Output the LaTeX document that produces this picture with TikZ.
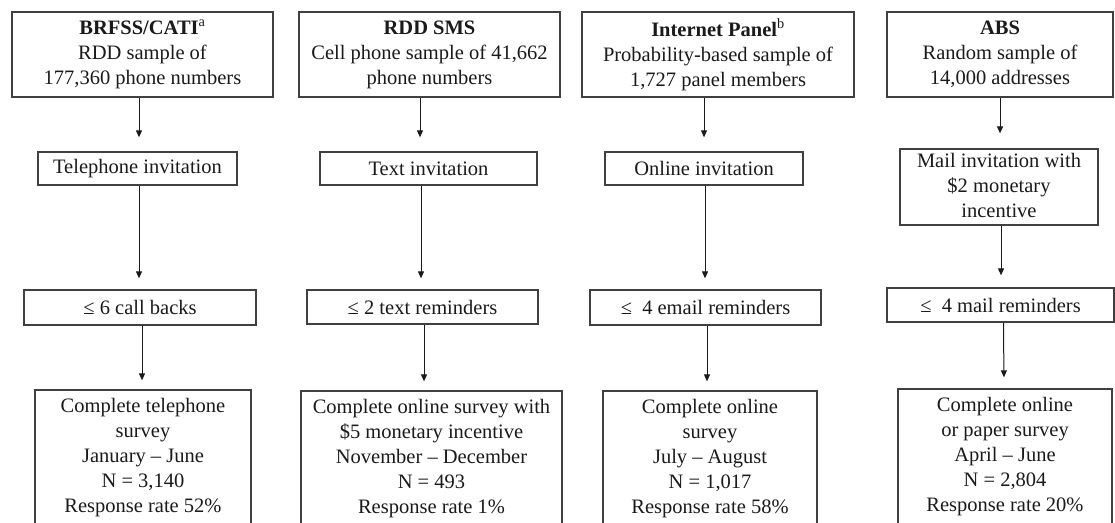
\documentclass[tikz,border=0pt]{standalone}
\usepackage{fontspec}
\setmainfont{Liberation Serif}
\usetikzlibrary{arrows.meta}
\definecolor{boxline}{HTML}{404040}
\definecolor{txt}{HTML}{1A1A1A}
\tikzset{
  box/.style={draw=boxline, line width=1.3pt, inner sep=0pt, align=center, text=txt,
    font=\fontsize{20.5}{25}\selectfont},
  arr/.style={draw=txt, line width=1pt, -{Triangle[length=7pt,width=6pt]}, shorten >=11pt},
}
\begin{document}
\begin{tikzpicture}[x=1pt,y=-1pt]
\clip (0,0) rectangle (1115,522);
\fill[white] (0,0) rectangle (1115,522);
% column 1
\node[box, minimum width=261pt, minimum height=85pt] (t1) at (142.5,54.5)
  {\textbf{BRFSS/CATI}\textsuperscript{a}\\RDD sample of\\177,360 phone numbers};
\node[box, minimum width=199pt, minimum height=33pt] (i1) at (137.5,168.5) {Telephone invitation};
\node[box, minimum width=232pt, minimum height=35pt] (r1) at (140,307.5) {≤ 6 call backs};
\node[box, minimum width=216pt, minimum height=135pt] (b1) at (143,457.5)
  {Complete telephone\\survey\\January – June\\N = 3,140\\Response rate 52\%};
% column 2
\node[box, minimum width=261pt, minimum height=85pt] (t2) at (429.5,54.5)
  {\textbf{RDD SMS}\\Cell phone sample of 41,662\\phone numbers};
\node[box, minimum width=217pt, minimum height=33pt] (i2) at (428.5,168.5) {Text invitation};
\node[box, minimum width=231pt, minimum height=34pt] (r2) at (422.5,307) {≤ 2 text reminders};
\node[box, minimum width=261pt, minimum height=135pt] (b2) at (431.5,458.5)
  {Complete online survey with\\\$5 monetary incentive\\November – December\\N = 493\\Response rate 1\%};
% column 3
\node[box, minimum width=272pt, minimum height=85pt] (t3) at (718,54.5)
  {\textbf{Internet Panel}\textsuperscript{b}\\Probability-based sample of\\1,727 panel members};
\node[box, minimum width=198pt, minimum height=33pt] (i3) at (704,168.5) {Online invitation};
\node[box, minimum width=231pt, minimum height=35pt] (r3) at (705.5,307.5) {≤\ \ 4 email reminders};
\node[box, minimum width=214pt, minimum height=135pt] (b3) at (710,458.5)
  {Complete online\\survey\\July – August\\N = 1,017\\Response rate 58\%};
% column 4
\node[box, minimum width=226pt, minimum height=85pt] (t4) at (1000,54.5)
  {\textbf{ABS}\\Random sample of\\14,000 addresses};
\node[box, minimum width=198pt, minimum height=76pt] (i4) at (999,187)
  {\raisebox{-3pt}{\begin{tabular}{@{}c@{}}Mail invitation with\\\$2 monetary\\incentive\end{tabular}}};
\node[box, minimum width=227pt, minimum height=34pt] (r4) at (1000.5,305) {≤\ \ 4 mail reminders};
\node[box, minimum width=214pt, minimum height=135pt] (b4) at (1005,456.5)
  {Complete online\\or paper survey\\April – June\\N = 2,804\\Response rate 20\%};
% arrows
\draw[arr, shorten >=14pt] ([xshift=-3.5pt]t1.south) -- ([xshift=1.5pt]i1.north);
\draw[arr] ([xshift=1.5pt]i1.south) -- ([xshift=-1pt]r1.north);
\draw[arr, shorten >=9pt] ([xshift=2pt]r1.south) -- ([xshift=-1pt]b1.north);
\draw[arr, shorten >=14pt] ([xshift=-9.5pt]t2.south) -- ([xshift=-8.5pt]i2.north);
\draw[arr] ([xshift=-7.5pt]i2.south) -- ([xshift=-1.5pt]r2.north);
\draw[arr, shorten >=9pt] ([xshift=1.5pt]r2.south) -- ([xshift=-7.5pt]b2.north);
\draw[arr, shorten >=14pt] ([xshift=-14pt]t3.south) -- ([xshift=0pt]i3.north);
\draw[arr] ([xshift=1pt]i3.south) -- ([xshift=-0.5pt]r3.north);
\draw[arr, shorten >=9pt] ([xshift=1.5pt]r3.south) -- ([xshift=-3pt]b3.north);
\draw[arr, shorten >=15pt] ([xshift=0pt]t4.south) -- ([xshift=1pt]i4.north);
\draw[arr, shorten >=12pt] ([xshift=2pt]i4.south) -- ([xshift=0.5pt]r4.north);
\draw[arr] ([xshift=3pt]r4.south) -- ([xshift=-1pt]b4.north);
\end{tikzpicture}
\end{document}
